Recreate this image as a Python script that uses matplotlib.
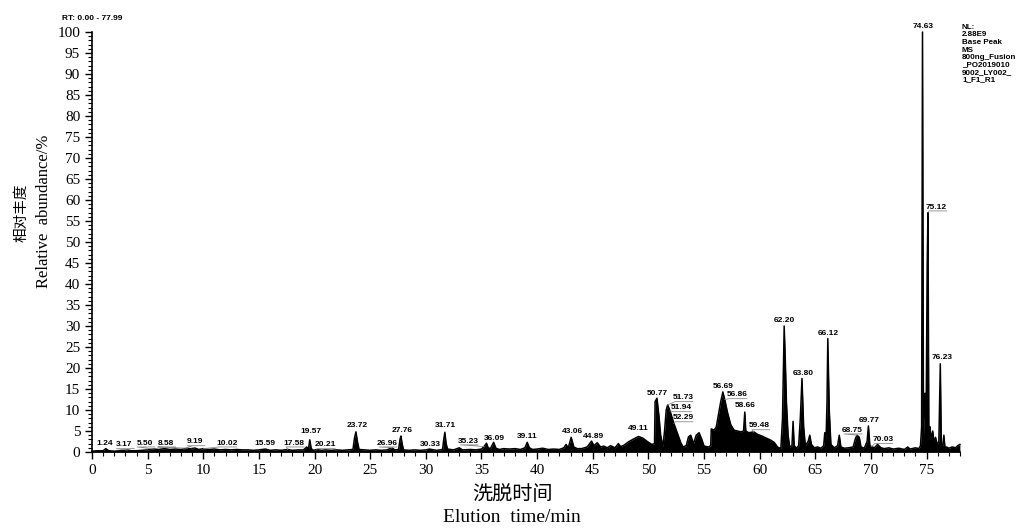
import numpy as np
import matplotlib
matplotlib.use('Agg')
from matplotlib import pyplot as plt

# retention time (min) and relative abundance (%)
rt = [0.0, 0.5, 1.0, 1.24, 1.5, 2.0, 2.5, 3.17, 3.5, 4.0, 4.5, 5.0, 5.5, 6.0, 6.5, 7.0, 7.5, 8.0,
      8.58, 9.0, 9.19, 9.6, 10.02, 10.5, 11.0, 11.5, 12.0, 12.5, 13.0, 13.5, 14.0, 14.5, 15.0, 15.59,
      16.0, 16.5, 17.0, 17.58, 18.0, 18.5, 19.0, 19.3, 19.45, 19.57, 19.7, 19.9, 20.21, 20.6, 21.0,
      21.5, 22.0, 22.5, 23.0, 23.45, 23.6, 23.72, 23.85, 24.0, 24.5, 25.0, 25.5, 26.0, 26.5, 26.96,
      27.2, 27.55, 27.68, 27.76, 27.88, 28.0, 28.5, 29.0, 29.5, 30.0, 30.33, 30.7, 31.0, 31.5, 31.62,
      31.71, 31.82, 31.95, 32.5, 33.0, 33.3, 34.0, 34.5, 35.0, 35.23, 35.45, 35.6, 35.8, 36.09, 36.3,
      36.6, 37.0, 37.5, 38.0, 38.5, 38.9, 39.11, 39.3, 39.6, 40.0, 40.5, 41.0, 41.5, 42.0, 42.4, 42.6,
      42.8, 43.06, 43.3, 43.6, 44.0, 44.5, 44.89, 45.1, 45.4, 45.7, 46.0, 46.3, 46.6, 47.0, 47.3,
      47.5, 47.8, 48.2, 48.6, 49.11, 49.5, 49.9, 50.3, 50.55, 50.6, 50.77, 50.95, 51.1, 51.3, 51.45,
      51.6, 51.73, 51.94, 52.29, 52.6, 52.9, 53.1, 53.4, 53.6, 53.8, 54.05, 54.3, 54.55, 54.8, 55.0,
      55.4, 55.6, 55.65, 55.9, 56.1, 56.3, 56.5, 56.69, 56.86, 57.1, 57.4, 57.7, 58.0, 58.3, 58.55,
      58.66, 58.75, 59.0, 59.48, 59.8, 60.2, 60.6, 61.0, 61.3, 61.6, 61.9, 62.05, 62.2, 62.3, 62.4,
      62.55, 62.7, 62.9, 63.0, 63.1, 63.3, 63.5, 63.65, 63.8, 63.95, 64.1, 64.35, 64.5, 64.65, 64.9,
      65.2, 65.5, 65.75, 65.85, 65.95, 66.05, 66.12, 66.25, 66.4, 66.7, 67.0, 67.15, 67.3, 67.6,
      68.0, 68.4, 68.6, 68.75, 68.95, 69.1, 69.4, 69.65, 69.77, 69.9, 70.03, 70.3, 70.6, 70.9, 71.2,
      71.6, 72.0, 72.5, 73.0, 73.3, 73.5, 74.0, 74.3, 74.45, 74.55, 74.63, 74.72, 74.85, 74.95,
      75.05, 75.12, 75.2, 75.3, 75.4, 75.55, 75.65, 75.8, 75.95, 76.1, 76.23, 76.32, 76.45, 76.55,
      76.65, 76.8, 77.0, 77.3, 77.6, 77.8, 77.99]
abundance = [0.2, 0.3, 0.3, 0.8, 0.3, 0.2, 0.3, 0.5, 0.3, 0.3, 0.4, 0.5, 0.7, 0.6, 0.8, 0.6, 0.7, 0.6,
             0.9, 0.7, 1.0, 0.6, 0.8, 0.6, 0.7, 0.5, 0.6, 0.5, 0.6, 0.5, 0.5, 0.4, 0.5, 0.7,
             0.4, 0.5, 0.4, 0.6, 0.4, 0.5, 0.5, 1.2, 0.6, 2.9, 0.8, 0.4, 0.6, 0.4, 0.5,
             0.4, 0.5, 0.4, 0.5, 0.6, 3.5, 4.8, 2.5, 0.6, 0.5, 0.4, 0.5, 0.4, 0.5, 1.0,
             0.5, 0.6, 3.0, 3.8, 1.8, 0.5, 0.4, 0.5, 0.4, 0.5, 0.7, 0.5, 0.4, 0.6, 3.2,
             4.7, 2.0, 0.7, 0.5, 1.0, 0.5, 0.6, 0.5, 0.7, 1.3, 2.1, 1.0, 0.8, 2.3, 0.9,
             0.6, 0.8, 0.7, 0.8, 0.6, 1.0, 2.3, 1.0, 0.6, 0.7, 0.9, 0.6, 0.7, 0.6, 1.0, 1.8,
             1.0, 3.5, 1.2, 0.8, 0.8, 1.2, 2.6, 1.5, 2.2, 1.2, 1.4, 1.0, 1.5, 1.0, 2.0,
             1.3, 1.6, 2.4, 3.0, 3.7, 3.3, 2.5, 1.8, 2.0, 12.0, 12.8, 8.5, 4.0, 1.2, 5.0,
             10.0, 11.2, 9.8, 6.8, 4.5, 2.3, 1.2, 1.5, 3.6, 4.0, 2.0, 4.0, 4.6, 3.0, 1.4,
             1.2, 1.5, 5.5, 5.2, 6.0, 9.0, 12.0, 14.3, 12.5, 9.5, 6.5, 5.2, 5.0, 4.8, 5.0,
             9.5, 5.0, 4.6, 4.8, 4.2, 3.8, 3.3, 2.8, 2.3, 1.2, 0.8, 8.0, 30.0, 22.0, 12.0,
             4.0, 1.2, 1.5, 7.3, 1.5, 0.9, 1.5, 8.0, 17.5, 6.0, 1.5, 2.5, 4.0, 1.8, 1.0,
             1.2, 0.9, 1.5, 4.6, 1.5, 12.0, 27.0, 10.0, 1.8, 1.0, 1.5, 4.0, 1.2, 0.9,
             1.0, 1.2, 3.2, 4.0, 3.5, 1.2, 0.9, 2.5, 6.2, 1.5, 1.3, 1.0, 1.8, 1.0, 0.8,
             1.0, 0.7, 0.9, 0.6, 1.2, 0.7, 1.0, 0.8, 1.5, 6.0, 100.0, 4.0, 14.0, 6.0,
             44.0, 57.0, 5.0, 6.0, 3.0, 5.0, 2.5, 3.5, 1.8, 2.5, 21.0, 2.0, 1.5, 4.0,
             1.0, 1.2, 0.9, 1.2, 1.0, 1.5, 1.8]

# peak labels: text, label centre (min, %)
peak_labels = ['1.24', '3.17', '5.50', '8.58', '9.19', '10.02', '15.59', '17.58', '19.57', '20.21',
               '23.72', '26.96', '27.76', '30.33', '31.71', '35.23', '36.09', '39.11', '43.06',
               '44.89', '49.11', '50.77', '51.73', '51.94', '52.29', '56.69', '56.86', '58.66',
               '59.48', '62.20', '63.80', '66.12', '68.75', '69.77', '70.03', '74.63', '75.12', '76.23']
label_x = [1.17, 2.9, 4.75, 6.6, 9.25, 12.1, 15.55, 18.15, 19.65, 20.95,
           23.8, 26.5, 27.85, 30.4, 31.72, 33.8, 36.2, 39.08, 43.13,
           45.1, 49.06, 50.76, 53.1, 52.95, 53.1, 56.69, 57.95, 58.67,
           60.0, 62.26, 63.88, 66.13, 68.3, 69.8, 71.05, 74.66, 75.9, 76.35]
label_y = [2.1, 1.7, 2.1, 2.1, 2.4, 2.1, 2.1, 2.1, 4.8, 1.7,
           6.2, 2.1, 5.0, 1.9, 6.2, 2.6, 3.3, 3.6, 4.8,
           3.6, 5.7, 14.0, 12.9, 10.5, 8.1, 15.7, 13.6, 11.0,
           6.2, 31.4, 18.6, 28.3, 5.2, 7.6, 2.9, 101.2, 58.3, 22.6]
leader = ['3.17', '5.50', '8.58', '9.19', '10.02', '17.58', '20.21', '26.96', '35.23',
          '51.73', '51.94', '52.29', '56.86', '59.48', '68.75', '70.03', '75.12']

info = 'NL:\n2.88E9\nBase Peak\nMS\n800ng_Fusion\n_PO2019010\n9002_LY002_\n1_F1_R1'

serif = ['Liberation Serif', 'DejaVu Serif']
cjk = ['Noto Sans CJK SC', 'DejaVu Sans']
sans = ['Liberation Sans', 'DejaVu Sans']

fig = plt.figure(figsize=(10.18, 5.29), dpi=100)
ax = fig.add_axes([92 / 1018, 77 / 529, 868 / 1018, 420 / 529])

t = np.array(rt)
a = np.array(abundance)
ax.fill_between(t, 0, a, color='black', lw=0)
ax.plot(t, a, color='black', lw=1.1, clip_on=False)

ax.set_xlim(0, 78)
ax.set_ylim(0, 100)
ax.set_xticks(np.arange(0, 80, 5))
ax.set_xticks(np.arange(0, 79, 1), minor=True)
ax.set_yticks(np.arange(0, 101, 5))
ax.set_yticks(np.arange(0, 101, 1), minor=True)
ax.tick_params(which='major', length=5, width=1, labelsize=11)
ax.tick_params(which='minor', length=3, width=0.8)
for lab in ax.get_xticklabels() + ax.get_yticklabels():
    lab.set_family(serif)
for s in ['top', 'right']:
    ax.spines[s].set_visible(False)
for s in ['left', 'bottom']:
    ax.spines[s].set_linewidth(1.2)

for txt, lx, ly in zip(peak_labels, label_x, label_y):
    ax.text(lx, ly, txt, ha='center', va='center', fontsize=6, fontweight='bold',
            family=sans, clip_on=False)
    if txt in leader:
        p = float(txt)
        pv = np.interp(p, t, a)
        ax.plot([p, lx - 0.7, lx + 0.9], [pv, ly - 0.9, ly - 0.9], color='#8a8a8a',
                lw=0.6, clip_on=False)

fig.text(62 / 1018, 1 - 18 / 529, 'RT: 0.00 - 77.99', fontsize=6, fontweight='bold',
         family=sans, ha='left', va='center')
fig.text(962 / 1018, 1 - 24 / 529, info, fontsize=5.8, fontweight='bold', family=sans,
         ha='left', va='top', linespacing=1.1)

fig.text(21 / 1018, 1 - 213 / 529, '相对丰度', rotation=90, fontsize=10.5, family=cjk,
         fontweight='light', ha='center', va='center')
fig.text(44 / 1018, 1 - 211 / 529, 'Relative  abundance/%', rotation=90, fontsize=12,
         family=serif, ha='center', va='center')
fig.text(513 / 1018, 1 - 495 / 529, '洗脱时间', fontsize=14.5, family=cjk,
         fontweight='light', ha='center', va='center')
fig.text(512 / 1018, 1 - 518 / 529, 'Elution  time/min', fontsize=14, family=serif,
         ha='center', va='center')

fig.savefig('out.png', dpi=100)
